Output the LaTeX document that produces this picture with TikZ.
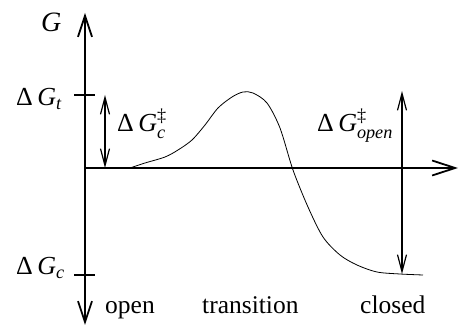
\documentclass[tikz,border=0pt]{standalone}
\usepackage{amsmath}
\usepackage{fontspec}
\setmainfont{Liberation Serif}
\usetikzlibrary{arrows.meta}
\begin{document}
\begin{tikzpicture}[x=1pt,y=-1pt,
  axisline/.style={line width=2.8pt},
  dimline/.style={line width=1.3pt},
  tickline/.style={line width=1.1pt},
  curveline/.style={line width=0.8pt},
  lab/.style={font=\fontsize{26}{30}\selectfont, inner sep=0pt, anchor=base west},
  xlab/.style={font=\fontsize{25.5}{30}\selectfont, inner sep=0pt, anchor=base west}]
\useasboundingbox (0,0) rectangle (459,326);
% axes
\coordinate (vtop) at (85,13);
\coordinate (vbot) at (85,325);
\coordinate (orig) at (85,168);
\coordinate (hend) at (458,168);
\draw[axisline, {Straight Barb[length=21pt,width=14pt,line width=1.8pt]}-{Straight Barb[length=21pt,width=14pt,line width=1.8pt]}] (vbot) -- (vtop);
\draw[axisline, -{Straight Barb[length=23pt,width=15pt,line width=1.8pt]}] (orig) -- (hend);
% ticks
\coordinate (tl) at (74,95);
\coordinate (tr) at (95,95);
\coordinate (cl) at (74,275);
\coordinate (cr) at (95,275);
\draw[tickline] (tl) -- (tr);
\draw[tickline] (cl) -- (cr);
% curve
\draw[curveline] plot[smooth, tension=0.5] coordinates {(130,168) (145,163) (165,157) (178,150) (192,140) (205,125) (218,108) (232,97) (243,92) (253,93) (267,103) (280,128) (293,170) (308,207) (323,237) (340,255) (357,265) (377,272) (400,274) (423,275)};
% dimension arrows
\coordinate (ca) at (105,95);
\coordinate (cb) at (105,168);
\coordinate (oa) at (402,91);
\coordinate (ob) at (402,274);
\draw[dimline, {Straight Barb[length=17pt,width=9pt,line width=1.2pt]}-{Straight Barb[length=17pt,width=9pt,line width=1.2pt]}] (cb) -- (ca);
\draw[dimline, {Straight Barb[length=17pt,width=9pt,line width=1.2pt]}-{Straight Barb[length=17pt,width=9pt,line width=1.2pt]}] (ob) -- (oa);
% labels
\node[lab, font=\fontsize{28}{32}\selectfont] (G) at (41,32) {\textit{G}};
\node[lab] (Gt) at (16,106) {$\text{Δ\,}\textit{G}_{\textit{t}}$};
\node[lab] (Gc) at (16,275) {$\text{Δ\,}\textit{G}_{\textit{c}}$};
\node[lab] (Gcd) at (117,132) {$\text{Δ\,}\textit{G}^{\text{‡}}_{\textit{c}}$};
\node[lab] (God) at (317,132) {$\text{Δ\,}\textit{G}^{\text{‡}}_{\textit{open}}$};
\node[xlab] (lo) at (105,314) {open};
\node[xlab] (lt) at (202,314) {transition};
\node[xlab] (lc) at (360,314) {closed};
\end{tikzpicture}
\end{document}
